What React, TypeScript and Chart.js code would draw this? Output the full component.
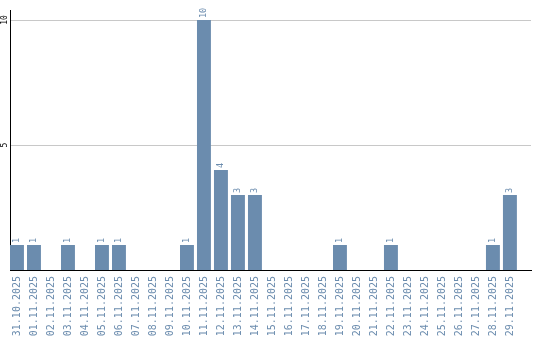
import React, { useEffect, useRef } from "react";
import { Chart, registerables } from "chart.js";

Chart.register(...registerables);

const categories = [
  "31.10.2025", "01.11.2025", "02.11.2025", "03.11.2025", "04.11.2025",
  "05.11.2025", "06.11.2025", "07.11.2025", "08.11.2025", "09.11.2025",
  "10.11.2025", "11.11.2025", "12.11.2025", "13.11.2025", "14.11.2025",
  "15.11.2025", "16.11.2025", "17.11.2025", "18.11.2025", "19.11.2025",
  "20.11.2025", "21.11.2025", "22.11.2025", "23.11.2025", "24.11.2025",
  "25.11.2025", "26.11.2025", "27.11.2025", "28.11.2025", "29.11.2025",
];
const counts = [1, 1, 0, 1, 0, 1, 1, 0, 0, 0, 1, 10, 4, 3, 3, 0, 0, 0, 0, 1, 0, 0, 1, 0, 0, 0, 0, 0, 1, 3];
const yTicks = [5, 10];

const BAR_COLOR = "#6b8cae";
const TEXT_COLOR = "#6b8cae";

const valueLabels = {
  id: "valueLabels",
  afterDatasetsDraw(chart: any) {
    const ctx = chart.ctx;
    const meta = chart.getDatasetMeta(0);
    ctx.save();
    ctx.fillStyle = TEXT_COLOR;
    ctx.font = "8.5px 'DejaVu Sans Mono'";
    ctx.textAlign = "left";
    ctx.textBaseline = "middle";
    meta.data.forEach((bar: any, i: number) => {
      const v = counts[i];
      if (!v) return;
      ctx.save();
      ctx.translate(bar.x, bar.y - 2);
      ctx.rotate(-Math.PI / 2);
      ctx.fillText(String(v), 0, 0);
      ctx.restore();
    });
    ctx.restore();
  },
};

export default function App() {
  const ref = useRef<HTMLCanvasElement>(null);
  useEffect(() => {
    document.body.style.margin = "0";
    const chart = new Chart(ref.current!, {
      type: "bar",
      data: {
        datasets: [
          {
            data: counts.map((v, i) => ({ x: i, y: v })),
            backgroundColor: BAR_COLOR,
            borderWidth: 0,
            barPercentage: 0.82,
            categoryPercentage: 1,
          },
        ],
      },
      options: {
        responsive: false,
        animation: false,
        layout: { padding: { top: 10, right: 9, left: 0, bottom: 0 } },
        plugins: { legend: { display: false }, tooltip: { enabled: false } },
        scales: {
          x: {
            type: "linear",
            offset: false,
            min: -0.41,
            max: 30.24,
            grid: { display: false, drawTicks: false, offset: false },
            border: { display: true, color: "#000", width: 1 },
            afterBuildTicks: (scale: any) => {
              scale.ticks = categories.map((_, i) => ({ value: i }));
            },
            afterFit: (scale: any) => {
              scale.height = 70;
            },
            ticks: {
              autoSkip: false,
              minRotation: 90,
              maxRotation: 90,
              padding: 6,
              color: TEXT_COLOR,
              font: { family: "'DejaVu Sans Mono'", size: 10 },
              callback: (value: any) => categories[value] ?? "",
            },
          },
          y: {
            min: 0,
            max: 10.4,
            grid: { color: "#c8c8c8", lineWidth: 1, drawTicks: false },
            border: { display: true, color: "#000", width: 1 },
            afterBuildTicks: (scale: any) => {
              scale.ticks = yTicks.map((v) => ({ value: v }));
            },
            afterFit: (scale: any) => {
              scale.width = 10;
            },
            ticks: {
              minRotation: 90,
              maxRotation: 90,
              crossAlign: "center",
              padding: 0,
              color: "#000",
              font: { family: "'DejaVu Sans Mono'", size: 8 },
            },
          },
        },
      },
      plugins: [valueLabels],
    });
    return () => chart.destroy();
  }, []);
  return (
    <div style={{ width: 540, height: 340 }}>
      <canvas ref={ref} width={540} height={340} />
    </div>
  );
}
